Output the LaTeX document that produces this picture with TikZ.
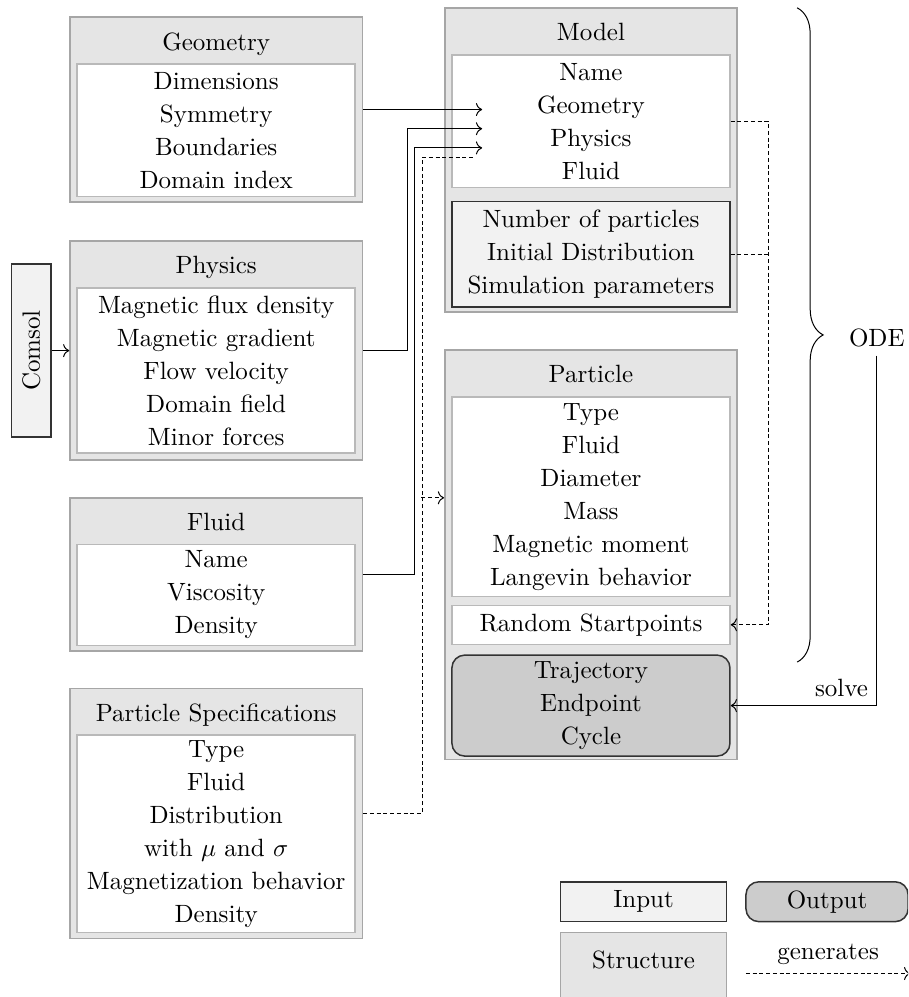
\documentclass[tikz,border=0pt]{standalone}
\usepackage{amsmath}
\usetikzlibrary{arrows.meta,positioning,decorations.pathreplacing}

\tikzset{
  every node/.style={font=\fontsize{10}{13.2}\selectfont},
  strbox/.style={draw=gray!70,fill=gray!20,line width=0.6pt,minimum width=4.11cm,inner sep=0pt},
  inbox/.style={draw=gray!55,fill=white,line width=0.6pt,align=center,minimum width=3.91cm,inner sep=0pt},
  inputbox/.style={draw=black!80,fill=gray!10,line width=0.6pt,align=center,minimum width=3.91cm,inner sep=0pt},
  outbox/.style={draw=black!80,fill=gray!40,line width=0.6pt,rounded corners=0.18cm,align=center,minimum width=3.91cm,inner sep=0pt},
  title/.style={inner sep=0pt},
  gen/.style={thin,dash pattern=on 1.6pt off 1.1pt},
}

\begin{document}
\begin{tikzpicture}
  \useasboundingbox (0,0) rectangle (12.77,-14.02);
  \clip (0,0) rectangle (12.77,-14.02);

  % Left column
  \node[strbox,minimum height=2.60cm] (geo) at (3.04,-1.54) {};
  \node[title,below=0.22cm of geo.north] (geoT) {Geometry};
  \node[inbox,minimum height=1.86cm,below=0.66cm of geo.north] (geoIn)
    {Dimensions\\Symmetry\\Boundaries\\Domain index};

  \node[strbox,minimum height=3.08cm] (phy) at (3.04,-4.93) {};
  \node[title,below=0.22cm of phy.north] (phyT) {Physics};
  \node[inbox,minimum height=2.32cm,below=0.66cm of phy.north] (phyIn)
    {Magnetic flux density\\Magnetic gradient\\Flow velocity\\Domain field\\Minor forces};

  \node[strbox,minimum height=2.15cm] (flu) at (3.04,-8.08) {};
  \node[title,below=0.22cm of flu.north] (fluT) {Fluid};
  \node[inbox,minimum height=1.42cm,below=0.65cm of flu.north] (fluIn)
    {Name\\Viscosity\\Density};

  \node[strbox,minimum height=3.51cm] (ps) at (3.04,-11.44) {};
  \node[title,below=0.22cm of ps.north] (psT) {Particle Specifications};
  \node[inbox,minimum height=2.78cm,below=0.65cm of ps.north] (psIn)
    {Type\\Fluid\\Distribution\\with $\mu$ and $\sigma$\\Magnetization behavior\\Density};

  % Comsol import
  \node[inputbox,rotate=90,minimum width=2.43cm,minimum height=0.56cm] (comsol) at (0.44,-4.93) {Comsol};

  % Right column
  \node[strbox,minimum height=4.27cm] (mod) at (8.31,-2.25) {};
  \node[title,below=0.22cm of mod.north] (modT) {Model};
  \node[inbox,minimum height=1.86cm,below=0.66cm of mod.north] (modIn)
    {Name\\Geometry\\Physics\\Fluid};
  \node[inputbox,minimum height=1.48cm,below=0.18cm of modIn] (inp)
    {Number of particles\\Initial Distribution\\Simulation parameters};

  \node[strbox,minimum height=5.76cm] (part) at (8.31,-7.80) {};
  \node[title,below=0.22cm of part.north] (partT) {Particle};
  \node[inbox,minimum height=2.81cm,below=0.66cm of part.north] (partIn)
    {Type\\Fluid\\Diameter\\Mass\\Magnetic moment\\Langevin behavior};
  \node[inbox,minimum height=0.55cm,below=0.1cm of partIn] (rand) {Random Startpoints};
  \node[outbox,minimum height=1.42cm,below=0.13cm of rand] (out)
    {Trajectory\\Endpoint\\Cycle};

  % Inputs into the model
  \coordinate (inGeo) at (6.78,-1.54);
  \coordinate (inPhy) at (6.78,-1.81);
  \coordinate (inFlu) at (6.78,-2.08);
  \coordinate (inPs) at (6.65,-2.21);
  \coordinate (branch) at (5.925,-7.00);

  \draw[thin,->] (comsol.south) -- (phy.west);
  \draw[thin,->] (geo.east) -- (inGeo);
  \draw[thin,->] (phy.east) -- ++(0.63,0) |- (inPhy);
  \draw[thin,->] (flu.east) -- ++(0.72,0) |- (inFlu);
  \draw[gen] (ps.east) -- ++(0.83,0) |- (inPs);
  \draw[gen,->] (branch) -- (branch -| part.west);

  % Model generates the start points
  \draw[gen,->] (modIn.east) -- ++(0.53,0) |- (rand.east);
  \draw[gen] (inp.east) -- ++(0.53,0);

  % ODE brace and solver
  \coordinate (odeTop) at (11.21,-0.11);
  \coordinate (odeBot) at (11.21,-9.31);
  \draw[thin,decorate,decoration={brace,amplitude=10.4pt}] (odeTop) -- (odeBot);
  \node (ode) at (12.33,-4.75) {ODE};
  \draw[thin,->] (ode.south) |- (out.east) node[pos=0.5,above left] {solve};

  % Legend
  \node[inputbox,minimum width=2.33cm,minimum height=0.56cm] (lgIn) at (9.05,-12.68) {Input};
  \node[outbox,minimum width=2.28cm,minimum height=0.56cm] (lgOut) at (11.63,-12.68) {Output};
  \node[strbox,minimum width=2.33cm,minimum height=1.2cm,anchor=north] (lgStr) at (9.05,-13.10) {};
  \node[title,below=0.27cm of lgStr.north] (lgStrT) {Structure};
  \coordinate (lgA) at (10.49,-13.69);
  \coordinate (lgB) at (12.80,-13.69);
  \draw[gen,->] (lgA) -- (lgB) node[midway,above] {generates};
\end{tikzpicture}
\end{document}
